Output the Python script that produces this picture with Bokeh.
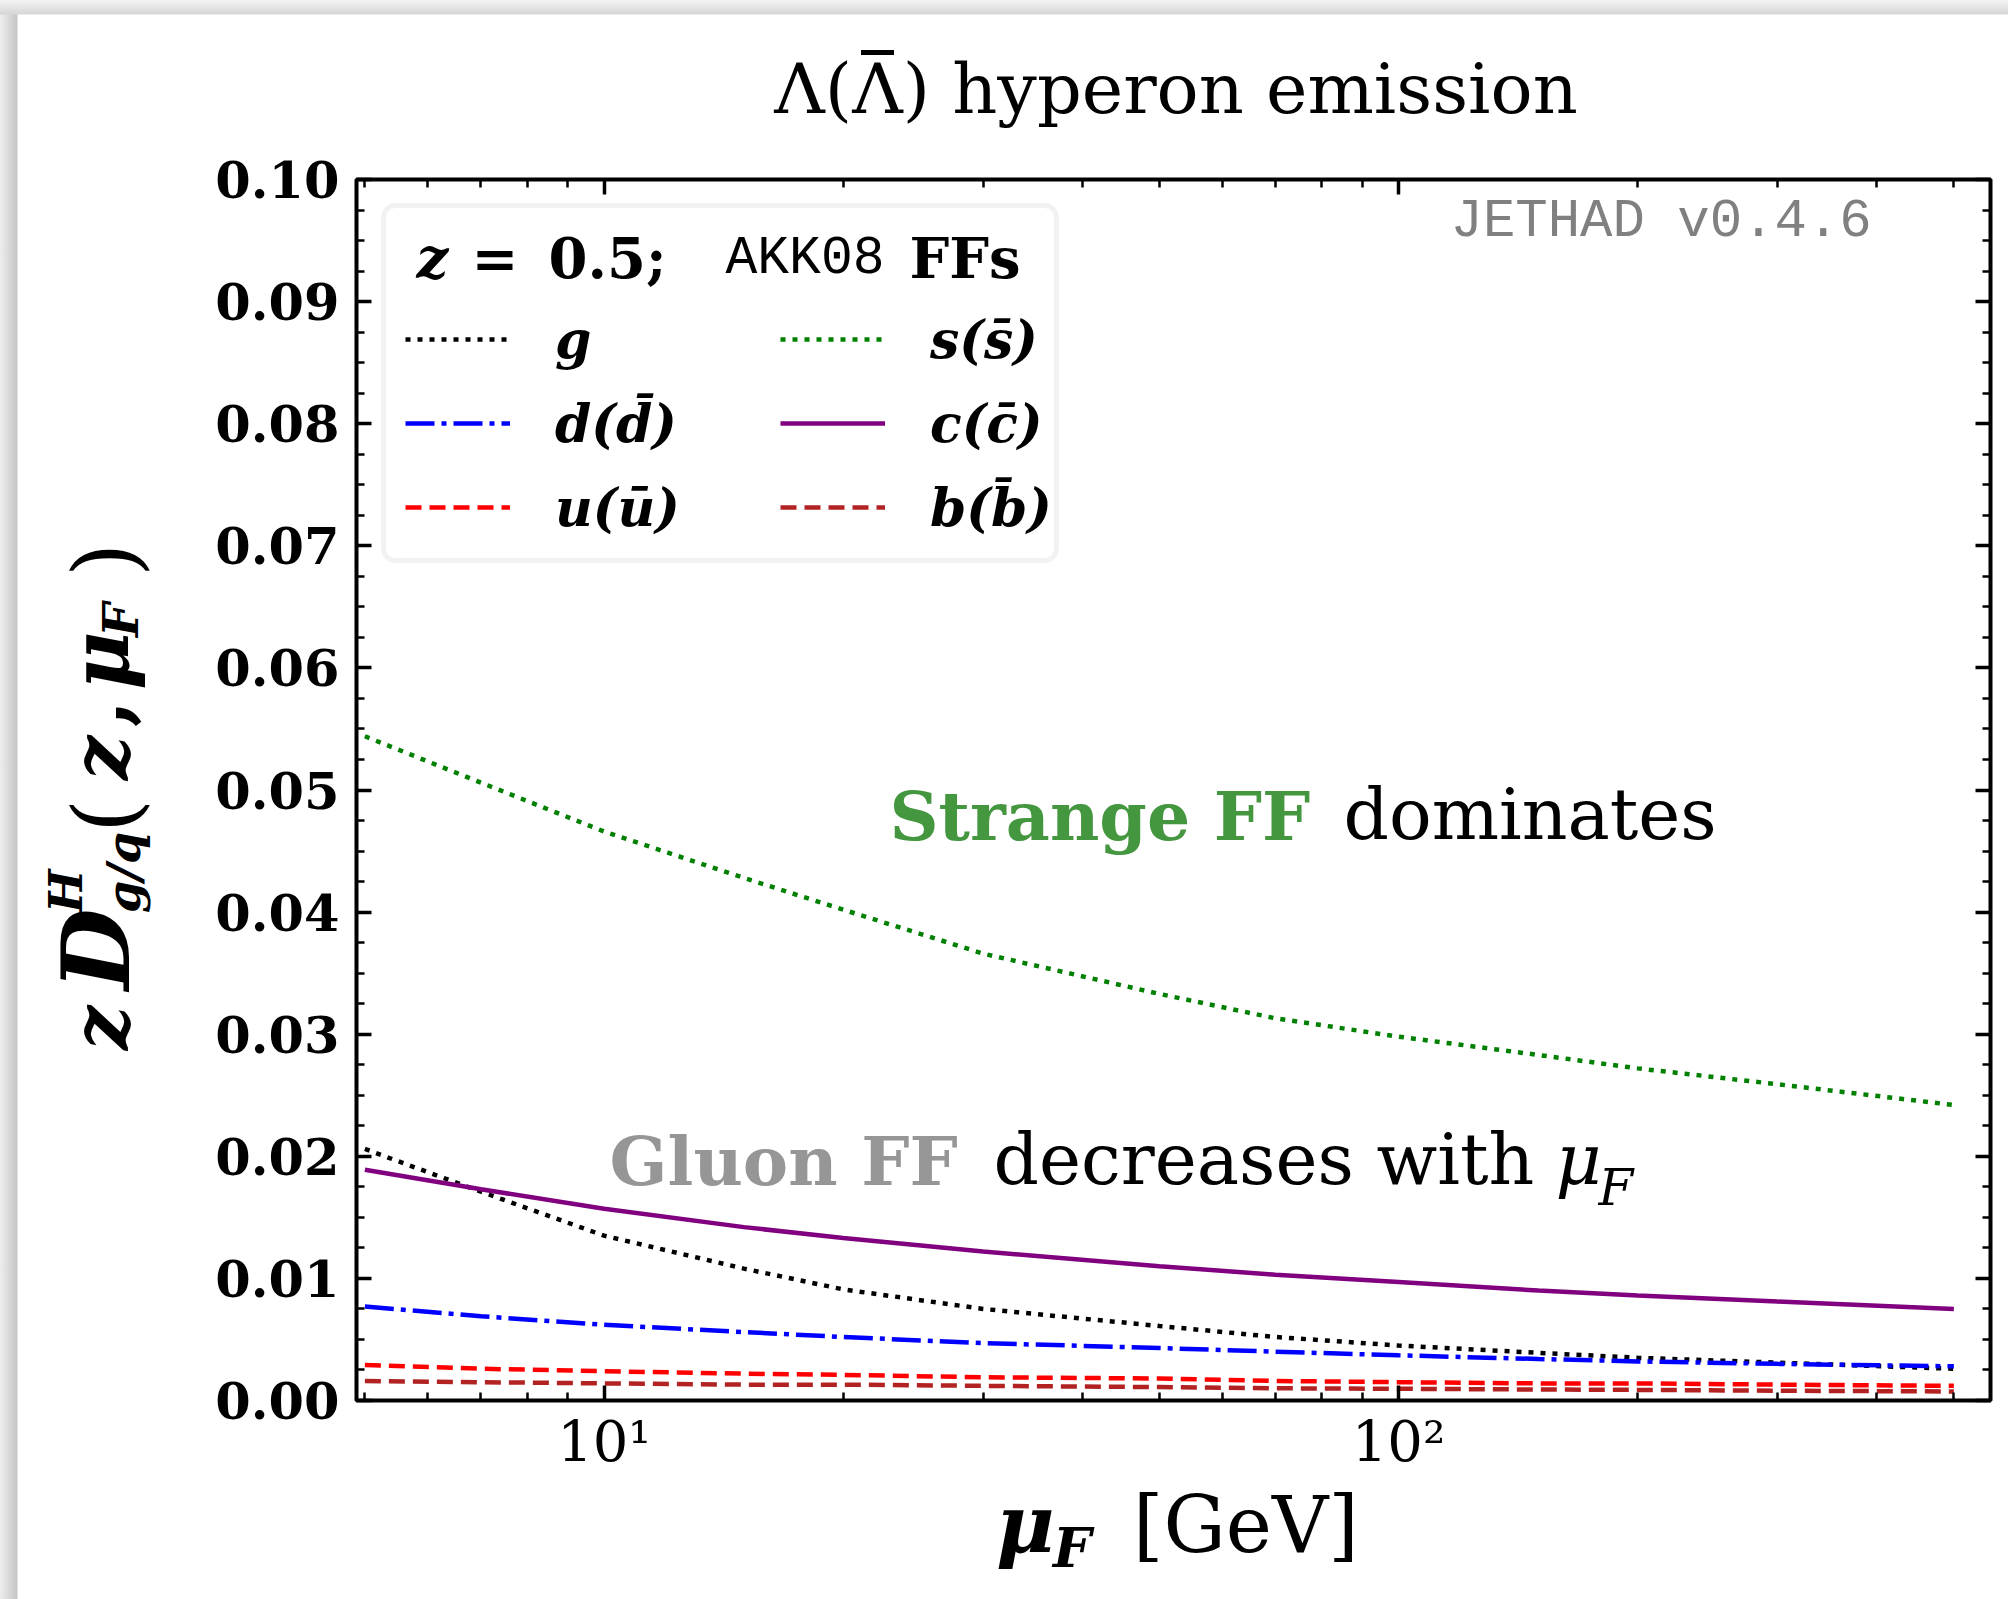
import math
from bokeh.plotting import figure
from bokeh.layouts import row, column
from bokeh.models import (FixedTicker, PrintfTickFormatter, LinearAxis, LogAxis, Label, Div,
                          Legend, LegendItem, BoxAnnotation, CustomJSTickFormatter, Range1d)
from bokeh.embed import file_html
from bokeh.resources import INLINE

# ---------------- data ----------------
mu_F = [5, 7, 10, 15, 20, 30, 50, 70, 100, 150, 200, 300, 500]
zD_g = [0.0206, 0.0171, 0.0135, 0.0108, 0.0091, 0.0075, 0.0061, 0.0052, 0.0045, 0.0039, 0.0035, 0.0031, 0.0026]
zD_d = [0.0077, 0.0069, 0.0062, 0.0056, 0.0052, 0.0047, 0.0043, 0.0040, 0.0037, 0.0034, 0.0032, 0.0030, 0.0028]
zD_u = [0.0029, 0.0026, 0.0024, 0.0022, 0.0021, 0.0019, 0.0018, 0.0016, 0.0015, 0.0014, 0.0014, 0.0013, 0.0012]
zD_s = [0.0544, 0.0506, 0.0466, 0.0428, 0.0402, 0.0366, 0.0333, 0.0313, 0.0298, 0.0283, 0.0272, 0.0259, 0.0242]
zD_c = [0.0189, 0.0173, 0.0157, 0.0142, 0.0133, 0.0122, 0.0110, 0.0103, 0.0097, 0.0090, 0.0086, 0.0081, 0.0075]
zD_b = [0.0016, 0.0015, 0.0014, 0.0013, 0.0013, 0.0012, 0.0011, 0.0010, 0.00096, 0.0009, 0.00087, 0.0008, 0.00074]

series_labels = ["g", "d(d\u0304)", "u(u\u0304)", "s(s\u0304)", "c(c\u0304)", "b(b\u0304)"]

x_major_ticks = [10, 100]
x_minor_ticks = [5, 6, 7, 8, 9, 20, 30, 40, 50, 60, 70, 80, 90, 200, 300, 400, 500]
x_tick_labels = {10: "10\u00b9", 100: "10\u00b2"}
y_major_ticks = [0.0, 0.01, 0.02, 0.03, 0.04, 0.05, 0.06, 0.07, 0.08, 0.09, 0.10]
y_minor_ticks = [i * 0.0025 for i in range(41)]

# ---------------- page geometry (page pixels) ----------------
FL, FT, FR, FB = 356, 179, 1990, 1400          # frame edges
LEFT_W = 188                                    # width of y-label strip
TOP_H = 149                                     # height of title strip
PAGE_W, PAGE_H = 2008, 1599

FW, FH = FR - FL, FB - FT
BL = FL - LEFT_W
BT = FT - TOP_H
BB = 90
BR = PAGE_W - FR
BOT_H = PAGE_H - (FB + BB)

# ---------------- figure ----------------
p = figure(x_axis_type="log", x_range=Range1d(4.88, 556), y_range=Range1d(0, 0.1),
           frame_width=FW, frame_height=FH,
           min_border_left=BL, min_border_right=BR, min_border_top=BT, min_border_bottom=BB,
           output_backend="svg", toolbar_location=None, margin=0)
p.background_fill_color = "white"
p.border_fill_color = "white"
p.outline_line_color = "black"
p.outline_line_width = 4
p.xgrid.visible = False
p.ygrid.visible = False

xt = FixedTicker(ticks=x_major_ticks, minor_ticks=x_minor_ticks)
yt = FixedTicker(ticks=y_major_ticks, minor_ticks=y_minor_ticks)

def style_axis(ax):
    ax.axis_line_color = None
    ax.major_tick_in = 15
    ax.major_tick_out = 0
    ax.minor_tick_in = 8
    ax.minor_tick_out = 0
    ax.major_tick_line_width = 3.5
    ax.minor_tick_line_width = 2.5
    ax.major_tick_line_color = "black"
    ax.minor_tick_line_color = "black"
    ax.major_label_text_color = "black"

xa = p.xaxis[0]
xa.ticker = xt
xa.major_label_overrides = x_tick_labels
style_axis(xa)
xa.major_label_text_font = "DejaVu Serif"
xa.major_label_text_font_size = "56px"
xa.major_label_standoff = 8

ya = p.yaxis[0]
ya.ticker = yt
ya.formatter = PrintfTickFormatter(format="%.2f")
style_axis(ya)
ya.major_label_text_font = "DejaVu Serif"
ya.major_label_text_font_style = "bold"
ya.major_label_text_font_size = "51px"
ya.major_label_standoff = 17

blank = CustomJSTickFormatter(code="return ''")
top_ax = LogAxis(ticker=xt, formatter=blank, major_label_standoff=0,
                 major_label_text_font_size="1px")
style_axis(top_ax)
right_ax = LinearAxis(ticker=yt, formatter=blank, major_label_standoff=0,
                      major_label_text_font_size="1px")
style_axis(right_ax)
p.add_layout(top_ax, "above")
p.add_layout(right_ax, "right")

# ---------------- curves ----------------
LW = 4.5
r_g = p.line(mu_F, zD_g, line_color="black", line_width=LW, line_dash="5 7")
r_d = p.line(mu_F, zD_d, line_color="blue", line_width=LW, line_dash="29 7 5 7")
r_u = p.line(mu_F, zD_u, line_color="red", line_width=LW, line_dash="16 8")
r_s = p.line(mu_F, zD_s, line_color="green", line_width=LW, line_dash="5 7")
r_c = p.line(mu_F, zD_c, line_color="purple", line_width=LW)
r_b = p.line(mu_F, zD_b, line_color="firebrick", line_width=LW, line_dash="16 8")

# ---------------- legend ----------------
def sx(X):
    return X - FL

def sy(Y):
    return FB - Y

box_kw = dict(left=sx(383), right=sx(1056), top=sy(205), bottom=sy(560),
              left_units="screen", right_units="screen", top_units="screen", bottom_units="screen",
              fill_color="white", fill_alpha=0.85, line_color="#d3d3d3", line_width=5)
if "border_radius" in BoxAnnotation.properties():
    box_kw["border_radius"] = 12
p.add_layout(BoxAnnotation(**box_kw))

items = [LegendItem(label=lab, renderers=[r]) for lab, r in
         zip(series_labels, [r_g, r_d, r_u, r_s, r_c, r_b])]
legend = Legend(items=items, location=(sx(405), sy(542)), orientation="vertical", ncols=2,
                label_text_font="DejaVu Serif", label_text_font_style="bold italic",
                label_text_font_size="52px", label_text_color="black",
                glyph_width=105, glyph_height=70,
                label_standoff=45, label_width=211, label_height=70, spacing=14,
                padding=0, margin=0, border_line_color=None, background_fill_alpha=0)
p.add_layout(legend)

BASE_FIX = 0.32   # empirical shift so that the alphabetic baseline lands on Y

def lab(text, X, Y, size, font="DejaVu Serif", style="normal", color="black", align="left"):
    p.add_layout(Label(x=sx(X), y=sy(Y - BASE_FIX * size), x_units="screen", y_units="screen",
                       text=text, text_font=font, text_font_size=f"{size}px",
                       text_font_style=style, text_color=color, text_align=align,
                       text_baseline="alphabetic"))

# legend title pieces
lab("z", 416, 275, 56, style="bold italic")
lab("=", 471, 275, 56, style="bold")
lab("0.5;", 548, 275, 56, style="bold")
lab("AKK08", 725, 275, 53, font="Liberation Mono")
lab("FFs", 909, 275, 56, style="bold")

# in-plot annotations
lab("JETHAD v0.4.6", 1450, 238, 54, font="Liberation Mono", color="#808080")
lab("Strange FF", 889, 837, 68, style="bold", color="#44963f")
lab("dominates", 1343, 837, 71)
lab("Gluon FF", 609, 1182, 68, style="bold", color="#969696")
lab("decreases with", 993, 1182, 71)
lab("\u03bc", 1555, 1182, 71, style="italic")
lab("F", 1598, 1203, 50, style="italic")

# ---------------- text strips (HTML) ----------------
ASC = 0.846   # baseline offset (em) inside a line-height:1 box for DejaVu Serif

def span(text, left, baseline, size, weight="normal", style="normal", extra=""):
    top = baseline - ASC * size
    return (f'<span style="position:absolute;left:{left:.1f}px;top:{top:.1f}px;'
            f'font-family:\'DejaVu Serif\';font-size:{size}px;line-height:1;'
            f'font-weight:{weight};font-style:{style};white-space:nowrap;color:black;{extra}">'
            f'{text}</span>')

TOP_SHADE = "linear-gradient(to bottom, #f3f3f3 0px, #d7d7d7 14px, rgba(255,255,255,0) 15px)"
LEFT_SHADE = "linear-gradient(to right, #eeeeee 0px, #c6c6c6 17px, #ffffff 18px)"

# title strip: Λ(Λ̄) hyperon emission, with a drawn macron over the second Λ
bar = ('<span style="display:inline-block;position:relative;">\u039b'
       '<span style="position:absolute;left:18%;right:18%;top:-4px;'
       'border-top:5px solid black;"></span></span>')
title_html = "\u039b(" + bar + ") hyperon emission"
t_html = (f'<div style="position:relative;width:{PAGE_W-LEFT_W}px;height:{TOP_H}px;'
          f'background:{TOP_SHADE};overflow:visible">'
          + span(title_html, 0, 113, 70,
                 extra=f"width:{2*(1176-LEFT_W)}px;text-align:center;")
          + '</div>')
tdiv = Div(text=t_html, width=PAGE_W - LEFT_W, height=TOP_H, margin=0)

# x-label strip
XB0 = FB + BB
x_html = (f'<div style="position:relative;width:{PAGE_W-LEFT_W}px;height:{BOT_H}px;overflow:visible">'
          + span("\u03bc", 996 - LEFT_W, 1552 - XB0, 80, "bold", "italic")
          + span("F", 1053 - LEFT_W, 1567 - XB0, 54, "bold", "italic")
          + span("[GeV]", 1133 - LEFT_W, 1552 - XB0, 78)
          + '</div>')
xdiv = Div(text=x_html, width=PAGE_W - LEFT_W, height=BOT_H, margin=0)

# y-label strip: rotated container, local u = OY - page_y, local v = page_x
OY = 1060
ypieces = [
    # text, page y where text starts (bottom), page x of baseline, size, weight, style
    ("z", 1050, 128, 78, "bold", "italic"),
    ("D", 990, 128, 94, "bold", "italic"),
    ("H", 913, 82, 46, "bold", "italic"),
    ("g/q", 913, 140, 46, "bold", "italic"),
    ("(", 833, 136, 88, "normal", "normal"),
    ("z", 780, 128, 78, "bold", "italic"),
    (",", 727, 128, 78, "bold", "normal"),
    ("\u03bc", 690, 128, 80, "bold", "italic"),
    ("F", 637, 138, 48, "bold", "italic"),
    (")", 577, 136, 88, "normal", "normal"),
]
inner = "".join(span(t, OY - ys, xb, s, w, st) for t, ys, xb, s, w, st in ypieces)
y_html = (f'<div style="position:relative;width:{LEFT_W}px;height:{PAGE_H}px;'
          f'background:{TOP_SHADE},{LEFT_SHADE};overflow:visible">'
          f'<div style="position:absolute;left:0px;top:{OY}px;width:700px;height:{LEFT_W}px;'
          f'transform:rotate(-90deg);transform-origin:0 0;">{inner}</div></div>')
ydiv = Div(text=y_html, width=LEFT_W, height=PAGE_H, margin=0)

layout = row(ydiv, column(tdiv, p, xdiv, spacing=0), spacing=0)

open("out.html", "w").write(file_html(layout, INLINE))
